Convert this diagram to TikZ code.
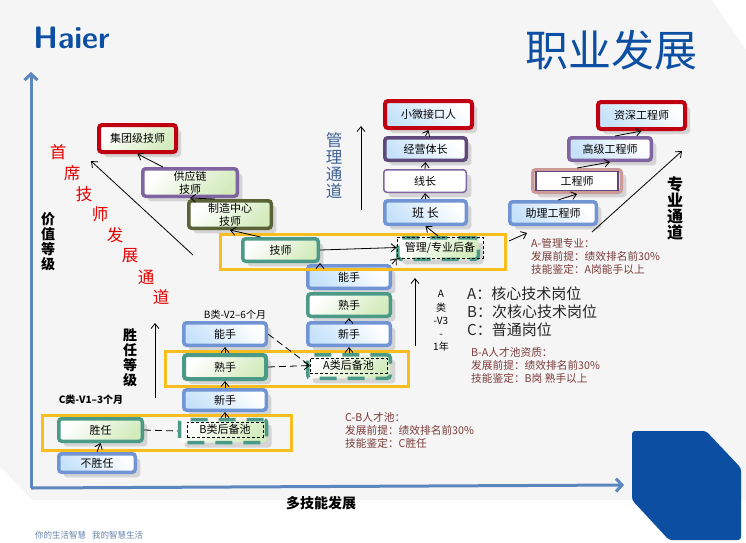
\documentclass[tikz,border=0pt]{standalone}
\usepackage{fontspec}
\setmainfont{Noto Sans CJK SC}
\usetikzlibrary{arrows.meta,positioning,calc,shadows}

\definecolor{pagegray}{HTML}{F5F5F5}
\definecolor{haierblue}{HTML}{0B4EA2}
\definecolor{axisblue}{HTML}{5B86BE}
\definecolor{boxblue}{HTML}{7094D4}
\definecolor{boxteal}{HTML}{4B9A88}
\definecolor{boxred}{HTML}{C00010}
\definecolor{boxpurple}{HTML}{8064A2}
\definecolor{boxdark}{HTML}{5F497A}
\definecolor{boxolive}{HTML}{5A6336}
\definecolor{boxpink}{HTML}{CD9A9A}
\definecolor{ringyellow}{HTML}{F9BE1E}
\definecolor{lightblue}{HTML}{C6E2FA}
\definecolor{lightgreen}{HTML}{D3EBBD}
\definecolor{notered}{HTML}{7A3B3B}
\definecolor{pathblue}{HTML}{3F6296}

\tikzset{
	jobbox/.style={rectangle, rounded corners=3pt, line width=3.5pt, inner sep=0pt, align=center,
		font=\fontsize{11}{13}\selectfont,
		general shadow={shadow xshift=5pt, shadow yshift=-5pt, fill=black!17}},
	bluebox/.style={jobbox, draw=#1, top color=lightblue, bottom color=white, shading angle=135},
	bluebox/.default=boxblue,
	greenbox/.style={jobbox, draw=#1, top color=lightgreen, bottom color=white, shading angle=-135},
	greenbox/.default=boxteal,
	poolbox/.style={greenbox, dash pattern=on 17pt off 11pt},
	poolname/.style={rectangle, draw, densely dashed, line width=0.7pt, inner sep=0pt, font=\fontsize{11}{13}\selectfont},
	ring/.style={rectangle, draw=ringyellow, line width=3pt, inner sep=0pt},
	arrowline/.style={-{Straight Barb[length=5pt,width=8pt]}, line width=0.8pt},
	dashline/.style={line width=0.8pt, dash pattern=on 7pt off 4pt},
	axisline/.style={-{Straight Barb[length=6pt,width=13pt]}, draw=axisblue, line width=3pt},
	boldlabel/.style={font=\fontsize{14}{15}\selectfont\bfseries, align=center, inner sep=0pt},
	pathlabel/.style={font=\fontsize{16.5}{17}\selectfont, text=pathblue, align=center, inner sep=0pt},
	redlabel/.style={font=\fontsize{16.5}{17}\selectfont, text=red!90!black, inner sep=0pt},
	note/.style={font=\fontsize{10.7}{13}\selectfont, text=notered, align=left, anchor=west, inner sep=0pt},
	kind/.style={font=\fontsize{15}{18}\selectfont, text=black!85, align=left, anchor=west, inner sep=0pt},
}

\begin{document}
\begin{tikzpicture}[x=1pt,y=-1pt]
	\useasboundingbox (0,0) rectangle (746,542);
	
	% Page
	\fill[white] (0,0) rectangle (746,542);
	\fill[pagegray] (0,0) -- (712,0) -- (746,50) -- (746,500) -- (32,500) -- (0,466) -- cycle;
	\fill[haierblue, rounded corners=3pt] (632,431) -- (706,431) -- (741,468) -- (741,540) -- (669,540) -- (632,500) -- cycle;
	\node[font=\fontsize{31}{31}\selectfont\bfseries\sffamily, text=haierblue, inner sep=0pt] (logo) at (71.5,38) {Haier};
	\node[font=\fontsize{43}{43}\selectfont, text=haierblue, inner sep=0pt] (title) at (611,50) {职业发展};
	\node[font=\fontsize{8.5}{10}\selectfont, text=pathblue!80, inner sep=0pt, anchor=west] (slogan) at (35,535) {你的生活智慧\hspace{0.7em}我的智慧生活};
	
	% Axes
	\coordinate (origin) at (31,488);
	\coordinate (axistop) at (31,72);
	\coordinate (axisright) at (624,485);
	\draw[axisline] (origin) -- (axistop);
	\draw[axisline] (origin) -- (axisright);
	\node[font=\fontsize{14}{15}\selectfont\bfseries, inner sep=0pt] (skill) at (321,503) {多技能发展};
	\node[boldlabel] (worth) at (48,242) {价\\值\\等\\级};
	\node[boldlabel] (comp) at (130,358) {胜\\任\\等\\级};
	
	% Chief technician path
	\foreach \ch/\x/\y in {首/58/152, 席/72/173, 技/84/194, 师/100/214, 发/115/235, 展/130/256, 通/146/277, 道/161/297}
		\node[redlabel] (red\x) at (\x,\y) {\ch};
	\node[greenbox=boxred, line width=4pt, minimum width=77, minimum height=27] (group) at (137.5,138.5) {集团级技师};
	\node[greenbox=boxpurple, minimum width=94.5, minimum height=27.5] (supply) at (190,182.5) {供应链\\技师};
	\node[greenbox=boxolive, minimum width=82.5, minimum height=27.5] (plant) at (230,214.5) {制造中心\\技师};
	\node[greenbox, minimum width=75.5, minimum height=22.5] (tech) at (280.5,250) {技师};
	
	% Level A
	\node[bluebox, minimum width=82.5, minimum height=22.5] (ablehandA) at (349,277) {能手};
	\node[greenbox, minimum width=82.5, minimum height=22.5] (skilledA) at (349,305) {熟手};
	\node[bluebox, minimum width=82.5, minimum height=22.5] (newA) at (349,334) {新手};
	\node[poolbox, minimum width=82.5, minimum height=23.5] (poolAbox) at (349,366.5) {};
	\node[poolname, minimum width=77, minimum height=15] (poolA) at (348.5,365.5) {A类后备池};
	
	% Level B
	\node[bluebox, minimum width=82.5, minimum height=22.5] (ablehandB) at (225,334) {能手};
	\node[greenbox, line width=4pt, minimum width=82, minimum height=24] (skilledB) at (225,367) {熟手};
	\node[bluebox, minimum width=82.5, minimum height=20.5] (newB) at (225,400) {新手};
	\node[poolbox, minimum width=87, minimum height=23] (poolBbox) at (223,431) {};
	\node[poolname, minimum width=76, minimum height=15] (poolB) at (225,429.5) {B类后备池};
	
	% Level C
	\node[greenbox, minimum width=83.5, minimum height=22.5] (fit) at (100.5,430) {胜任};
	\node[bluebox, minimum width=76.5, minimum height=18.5] (unfit) at (97,463) {不胜任};
	
	% Management path
	\node[poolbox, minimum width=80.5, minimum height=21.5] (poolMbox) at (438,248.5) {};
	\node[poolname, minimum width=86, minimum height=21] (poolM) at (440,247.5) {管理/专业后备};
	\node[bluebox, minimum width=81.5, minimum height=23.5, font=\fontsize{12}{13}\selectfont] (squad) at (425.5,212.5) {班 长};
	\node[jobbox, draw=boxpurple, fill=white, line width=1.5pt, minimum width=82.5, minimum height=22.5] (line) at (425,181) {线长};
	\node[bluebox=boxdark, minimum width=81.5, minimum height=22.5] (unit) at (425.5,149) {经营体长};
	\node[bluebox=boxred, line width=4pt, minimum width=87, minimum height=27] (micro) at (428.5,114.5) {小微接口人};
	
	% Engineer path
	\node[bluebox, minimum width=86.5, minimum height=22.5] (assist) at (553,213) {助理工程师};
	\node[jobbox, draw=boxpink, fill=white, minimum width=88.5, minimum height=22.5] (engbox) at (577,181) {};
	\node[rectangle, draw=boxdark, fill=white, line width=1.2pt, inner sep=0pt, minimum width=82, minimum height=19, font=\fontsize{11}{13}\selectfont] (eng) at (577,181) {工程师};
	\node[bluebox=boxpurple, minimum width=82.5, minimum height=22.5] (senior) at (610,149) {高级工程师};
	\node[bluebox=boxred, line width=4pt, minimum width=87, minimum height=27] (chief) at (641.5,115.5) {资深工程师};
	
	% Rings
	\node[ring, minimum width=285, minimum height=35] (ringA) at (362.5,251.5) {};
	\node[ring, minimum width=243, minimum height=35] (ringB) at (287,368.5) {};
	\node[ring, minimum width=249, minimum height=35] (ringC) at (166.5,432.5) {};
	
	% Arrows
	\draw[arrowline] (unfit.north) -- (fit.south);
	\draw[arrowline] (poolBbox.north) ++(2,0) -- (newB.south);
	\draw[arrowline] (newB.north) -- (skilledB.south);
	\draw[arrowline] (skilledB.north) -- (ablehandB.south);
	\draw[arrowline] (poolAbox.north) -- (newA.south);
	\draw[arrowline] (newA.north) -- (skilledA.south);
	\draw[arrowline] (tech.north) ++(-20,0) -- (plant.south);
	\draw[arrowline] (plant.north) ++(-15,0) -- (supply.south);
	\draw[arrowline] (supply.north) ++(-27,0) -- (group.south);
	\draw[arrowline] (tech.east) -- (poolM.west);
	\draw[arrowline] (ablehandA.north east) -- (poolM.south west);
	\draw[arrowline] (ablehandA.north west) ++(14,0) -- (tech.south east);
	\draw[arrowline] (poolMbox.north) -- (squad.south);
	\draw[arrowline] (squad.north) -- (line.south);
	\draw[arrowline] (line.north) -- (unit.south);
	\draw[arrowline] (unit.north) -- (micro.south);
	\draw[arrowline] (assist.north) ++(5,0) -- (engbox.south);
	\draw[arrowline] (engbox.north) -- (senior.south);
	\draw[arrowline] (senior.north) ++(5,0) -- (chief.south);
	
	% Dashed links
	\draw[dashline] (fit.east) -- (poolBbox.west);
	\draw[dashline, -{Straight Barb[length=5pt,width=8pt]}] (skilledB.east) -- (poolA.west);
	\draw[dashline] (ablehandB.east) -- (poolA.west);
	
	% Path arrows
	\coordinate (chieffrom) at (193,255);
	\coordinate (chiefto) at (91,161);
	\coordinate (compfrom) at (155,398);
	\coordinate (compto) at (155,323);
	\coordinate (mgmtfrom) at (361,210);
	\coordinate (mgmtto) at (361,126);
	\coordinate (corefrom) at (415,346);
	\coordinate (coreto) at (415,278);
	\coordinate (ringfrom) at (509,241);
	\coordinate (ringto) at (527,233);
	\coordinate (engfrom) at (592,232);
	\coordinate (engto) at (682,151);
	\draw[arrowline] (chieffrom) -- (chiefto);
	\draw[arrowline] (compfrom) -- (compto);
	\draw[arrowline] (mgmtfrom) -- (mgmtto);
	\draw[arrowline] (corefrom) -- (coreto);
	\draw[arrowline] (ringfrom) -- (ringto);
	\draw[arrowline] (engfrom) -- (engto);
	
	% Labels
	\node[pathlabel] (mgmt) at (334,166) {管\\理\\通\\道};
	\node[boldlabel, font=\fontsize{16}{16}\selectfont\bfseries] (pro) at (675,208) {专\\业\\通\\道};
	\node[font=\fontsize{10}{11}\selectfont\bfseries, inner sep=0pt] (levelC) at (91,400) {C类-V1--3个月};
	\node[font=\fontsize{10}{11}\selectfont, inner sep=0pt] (levelB) at (235,315) {B类-V2--6个月};
	\node[font=\fontsize{10}{13.2}\selectfont, align=center, inner sep=0pt] (levelA) at (441,321) {A\\类\\-V3\\-\\1年};
	
	% Notes
	\node[kind] (kinds) at (467,312) {A：核心技术岗位\\B：次核心技术岗位\\C：普通岗位};
	\node[note] (noteM) at (531,256) {A-管理专业：\\发展前提：绩效排名前30\%\\技能鉴定：A岗能手以上};
	\node[note] (noteA) at (471,365) {B-A人才池资质：\\发展前提：绩效排名前30\%\\技能鉴定：B岗 熟手以上};
	\node[note] (noteB) at (345,430) {C-B人才池：\\发展前提：绩效排名前30\%\\技能鉴定：C胜任};
	
\end{tikzpicture}
\end{document}
